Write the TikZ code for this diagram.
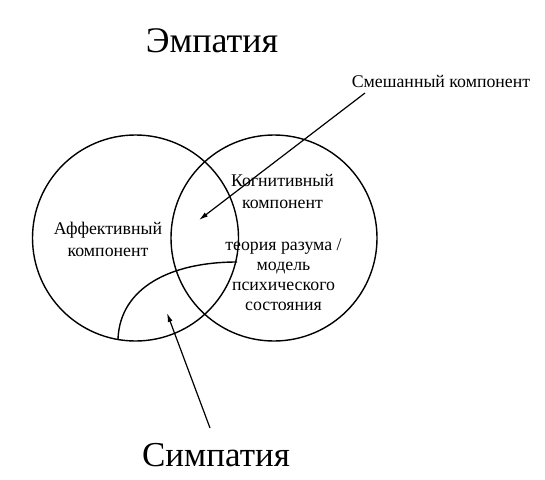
\documentclass[tikz,border=0pt]{standalone}
\usepackage{fontspec}
\setmainfont{Liberation Serif}
\usetikzlibrary{arrows.meta}
\begin{document}
\begin{tikzpicture}[x=1pt,y=-1pt,
  ring/.style={draw, line width=1.4pt, circle, minimum size=206pt, inner sep=0pt},
  lbl/.style={align=center, font=\fontsize{17.8}{22}\selectfont, inner sep=0pt},
  big/.style={font=\fontsize{35}{40}\selectfont, inner sep=0pt},
  pointer/.style={line width=1.2pt, -{Latex[length=9pt,width=5pt]}}]
\useasboundingbox (0,0) rectangle (545,479);
\node[ring] (L) at (135.5,238) {};
\node[ring] (R) at (274,238) {};
\coordinate (sa) at (118,339);
\coordinate (sb) at (237,262);
\draw[line width=1.4pt] (sa) .. controls (120,288) and (170,262) .. (sb);
\node[big, font=\fontsize{36}{40}\selectfont] (emp) at (212,41) {Эмпатия};
\node[big] (sym) at (216,455) {Симпатия};
\node[lbl] (mix) at (441,81) {Смешанный компонент};
\node[lbl] (aff) at (108,239) {Аффективный\\компонент};
\node[lbl] (cog) at (282.5,191) {Когнитивный\\компонент};
\node[lbl, font=\fontsize{17.8}{20}\selectfont] (tom) at (283.5,275) {теория разума /\\модель\\психического\\состояния};
\coordinate (mixtail) at (365,93);
\coordinate (mixtip) at (199,220);
\coordinate (symtail) at (210,428);
\coordinate (symtip) at (167,313);
\draw[pointer] (mixtail) -- (mixtip);
\draw[pointer] (symtail) -- (symtip);
\end{tikzpicture}
\end{document}
